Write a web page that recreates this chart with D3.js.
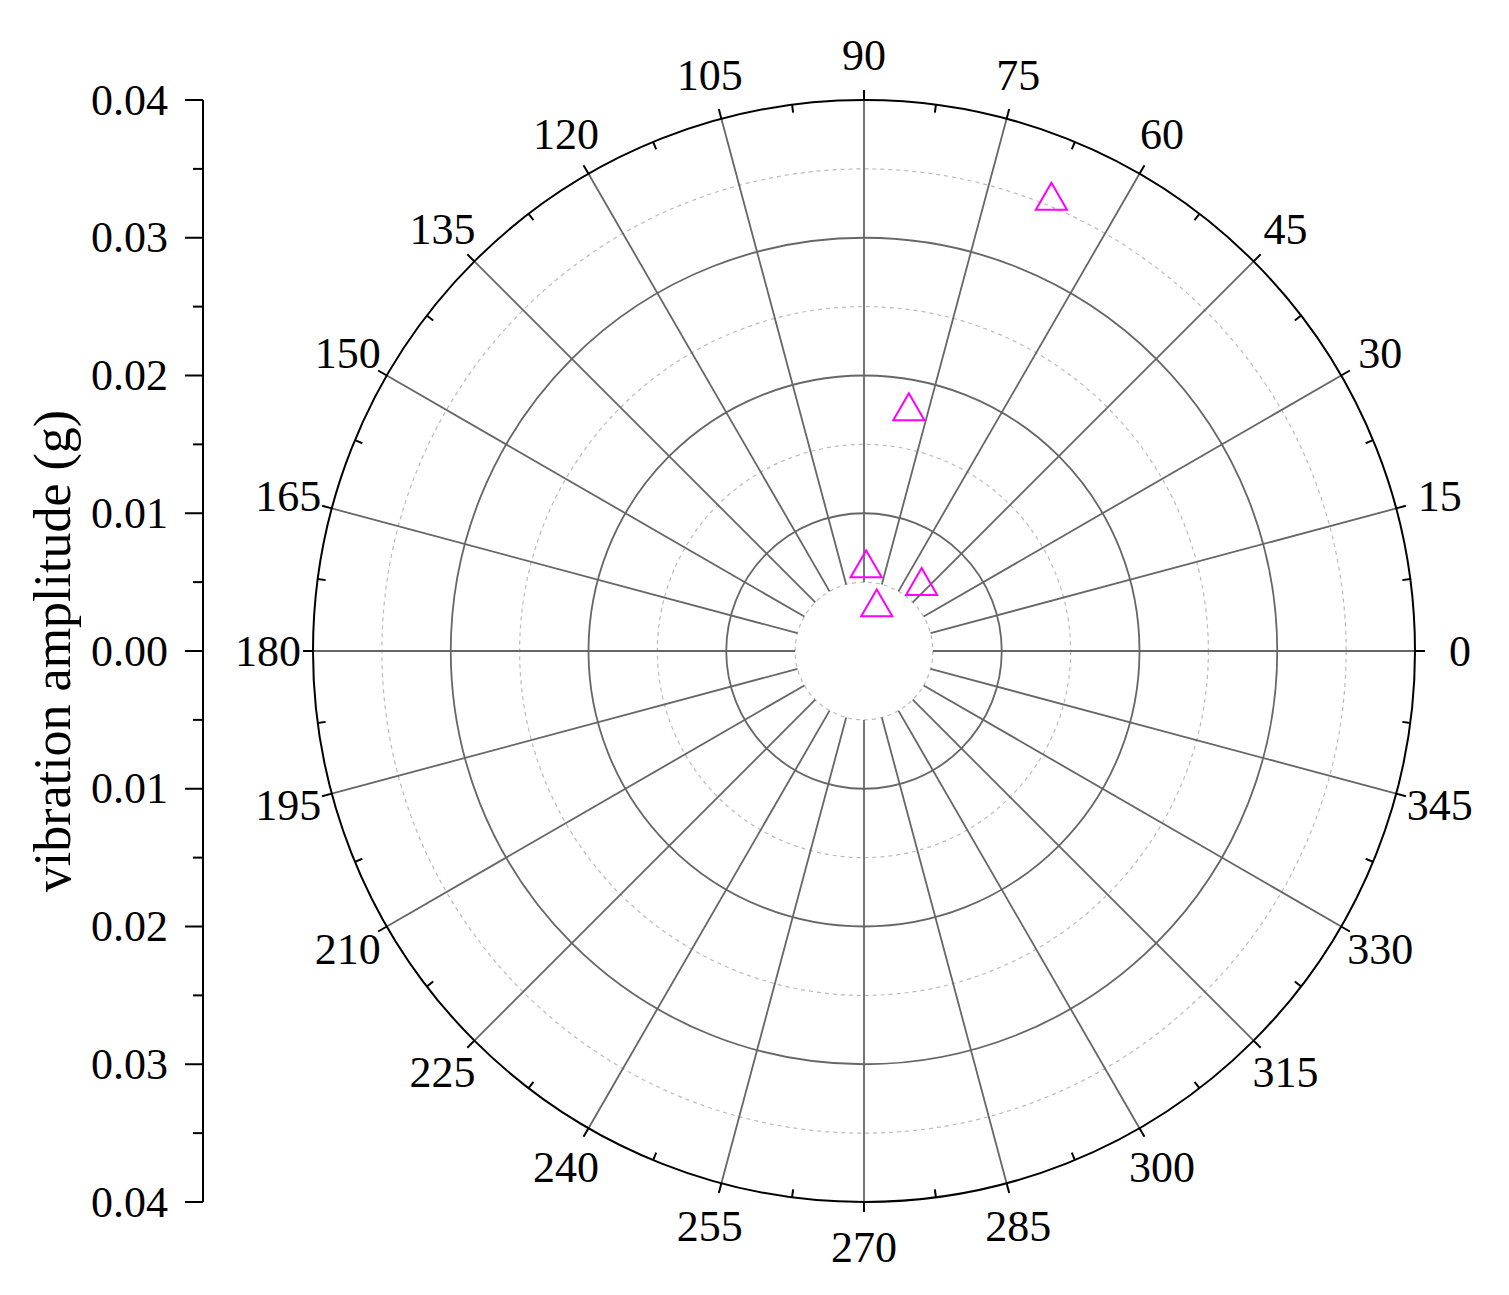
<!DOCTYPE html>
<html><head><meta charset="utf-8">
<script src="https://cdn.jsdelivr.net/npm/d3@7"></script>
<style>body{margin:0;background:#fff}</style></head>
<body><div id="chart"></div>
<script>
// data (angle in degrees, amplitude in g)
const angles = [67.4, 79.4, 88.5, 73.7, 48.4];
const amps = [0.0354, 0.0177, 0.0060, 0.0033, 0.0063];
const axisTicks = [0.04, 0.03, 0.02, 0.01, 0.00, 0.01, 0.02, 0.03, 0.04];
const angleTicks = d3.range(0, 360, 15);

const W = 1509, H = 1295, cx = 864, cy = 651, R = 551;
const svg = d3.select("#chart").append("svg").attr("width", W).attr("height", H)
  .style("font-family", "'Liberation Serif', 'Times New Roman', serif");

const r = d3.scaleLinear().domain([0, 0.04]).range([0, R]);
const pt = (a, rad) => [cx + rad * Math.cos(a * Math.PI / 180), cy - rad * Math.sin(a * Math.PI / 180)];

const g = svg.append("g");
// dashed minor circles
g.selectAll("circle.minor").data([0.005, 0.015, 0.025, 0.035]).join("circle")
  .attr("cx", cx).attr("cy", cy).attr("r", d => r(d))
  .attr("fill", "none").attr("stroke", "#bbb").attr("stroke-dasharray", "4,4").attr("stroke-width", 1.2);
// solid circles
g.selectAll("circle.major").data([0.01, 0.02, 0.03]).join("circle")
  .attr("cx", cx).attr("cy", cy).attr("r", d => r(d))
  .attr("fill", "none").attr("stroke", "#666").attr("stroke-width", 1.8);
// spokes
g.selectAll("line.spoke").data(angleTicks).join("line")
  .attr("x1", d => pt(d, r(0.005))[0]).attr("y1", d => pt(d, r(0.005))[1])
  .attr("x2", d => pt(d, R)[0]).attr("y2", d => pt(d, R)[1])
  .attr("stroke", "#666").attr("stroke-width", 1.8);
// outer circle
g.append("circle").attr("cx", cx).attr("cy", cy).attr("r", R)
  .attr("fill", "none").attr("stroke", "#000").attr("stroke-width", 2);
// outer ticks
g.selectAll("line.tick").data(d3.range(0, 360, 7.5)).join("line")
  .attr("x1", d => pt(d, R)[0]).attr("y1", d => pt(d, R)[1])
  .attr("x2", d => pt(d, d % 15 === 0 ? R + 10 : R - 8)[0])
  .attr("y2", d => pt(d, d % 15 === 0 ? R + 10 : R - 8)[1])
  .attr("stroke", "#000").attr("stroke-width", 2);
// angle labels
g.selectAll("text.ang").data(angleTicks).join("text")
  .attr("x", d => pt(d, R + 45)[0]).attr("y", d => pt(d, R + 45)[1])
  .attr("text-anchor", "middle").attr("dominant-baseline", "central")
  .attr("font-size", 44).text(d => d);

// points
const tri = d3.symbol().type(d3.symbolTriangle).size(420);
svg.selectAll("path.pt").data(angles).join("path")
  .attr("d", tri)
  .attr("transform", (d, i) => { const p = pt(d, r(amps[i])); return `translate(${p[0]},${p[1]})`; })
  .attr("fill", "none").attr("stroke", "#ff00ff").attr("stroke-width", 2);

// left axis
const y = d3.scaleLinear().domain([0, axisTicks.length - 1]).range([cy - R, cy + R]);
const ax = svg.append("g");
ax.append("line").attr("x1", 203).attr("x2", 203).attr("y1", cy - R).attr("y2", cy + R)
  .attr("stroke", "#000").attr("stroke-width", 2);
ax.selectAll("line.mt").data(d3.range(0, axisTicks.length - 0.5, 0.5)).join("line")
  .attr("x1", d => Number.isInteger(d) ? 185 : 193).attr("x2", 203)
  .attr("y1", d => y(d)).attr("y2", d => y(d))
  .attr("stroke", "#000").attr("stroke-width", 2);
ax.selectAll("text").data(axisTicks).join("text")
  .attr("x", 168).attr("y", (d, i) => y(i)).attr("text-anchor", "end")
  .attr("dominant-baseline", "central").attr("font-size", 44).text(d => d.toFixed(2));
svg.append("text").attr("transform", `translate(52,${cy}) rotate(-90)`)
  .attr("text-anchor", "middle").attr("dominant-baseline", "central")
  .attr("font-size", 52).text("vibration amplitude (g)");
</script></body></html>
